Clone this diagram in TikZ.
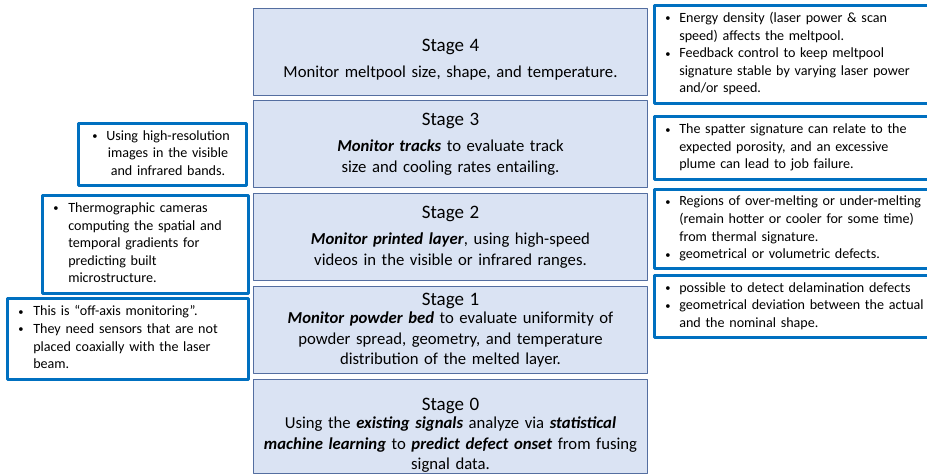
\documentclass[tikz,border=0pt]{standalone}
\usepackage{fontspec}
\setmainfont{Carlito}
\usepackage{array}
\definecolor{stagefill}{RGB}{218,227,243}
\definecolor{stageline}{RGB}{84,110,160}
\definecolor{noteline}{RGB}{0,112,192}
\newcommand{\stagetitle}[1]{{\fontsize{19}{20.4}\selectfont #1}}
\newcommand{\bi}[1]{\textbf{\textit{#1}}}
\newcommand{\bul}{\raisebox{0.6pt}{\fontsize{10.5}{10.5}\selectfont\textbullet}}
\tikzset{
  stagebox/.style={draw=stageline,line width=1pt,fill=stagefill,anchor=north west,
    minimum width=394pt,inner sep=4pt,text width=386pt,align=center,
    font=\fontsize{16.7}{20.4}\selectfont},
  notebox/.style={draw=noteline,line width=2.5pt,fill=white,anchor=north west,
    inner xsep=11pt,inner ysep=0pt,align=left,
    font=\fontsize{14.1}{17.6}\selectfont}
}
\begin{document}
\begin{tikzpicture}[line cap=round,line join=round,x=1pt,y=-1pt]
\useasboundingbox (0,0) rectangle (927,475);
		% stages
		\node[stagebox,minimum height=87pt] (stage4) at (253,8) {\rule{0pt}{28pt}\stagetitle{Stage 4}\\[6pt]Monitor meltpool size, shape, and temperature.};
		\node[stagebox,minimum height=87pt] (stage3) at (253,100) {\stagetitle{Stage 3}\\[6pt]\bi{Monitor tracks} to evaluate track\\size and cooling rates entailing.};
		\node[stagebox,minimum height=87pt] (stage2) at (253,193) {\stagetitle{Stage 2}\\[6pt]\bi{Monitor printed layer}, using high-speed\\videos in the visible or infrared ranges.};
		\node[stagebox,minimum height=87pt] (stage1) at (253,286) {\stagetitle{Stage 1}\\[-2pt]\bi{Monitor powder bed} to evaluate uniformity of\\powder spread, geometry, and temperature\\distribution of the melted layer.};
		\node[stagebox,minimum height=94pt,inner ysep=0pt] (stage0) at (253,379) {\rule{0pt}{30pt}\stagetitle{Stage 0}\\[-2pt]Using the \bi{existing signals} analyze via \bi{statistical}\\\bi{machine learning} to \bi{predict defect onset} from fusing\\signal data.};
		% left notes
		\node[notebox,inner xsep=14pt,minimum width=168pt,minimum height=62pt,text width=140pt] (note3) at (77,122) {\begin{tabular}{@{}p{14pt}@{}c@{}}\bul&Using high-resolution\\&images in the visible\\&and infrared bands.\end{tabular}};
		\node[notebox,minimum width=206pt,minimum height=98pt,text width=184pt] (note2) at (41,194) {\begin{tabular}{@{}p{15pt}@{}l@{}}\bul&Thermographic cameras\\&computing the spatial and\\&temporal gradients for\\&predicting built\\&microstructure.\end{tabular}};
		\node[notebox,minimum width=241pt,minimum height=81pt,text width=219pt] (note1) at (6,297) {\begin{tabular}{@{}p{15pt}@{}l@{}}\bul&This is “off-axis monitoring”.\\\bul&They need sensors that are not\\&placed coaxially with the laser\\&beam.\end{tabular}};
		% right notes
		\node[notebox,minimum width=282pt,minimum height=98pt,text width=260pt] (info4) at (653,4) {\begin{tabular}{@{}p{14pt}@{}l@{}}\bul&Energy density (laser power \& scan\\&speed) affects the meltpool.\\\bul&Feedback control to keep meltpool\\&signature stable by varying laser power\\&and/or speed.\end{tabular}};
		\node[notebox,minimum width=282pt,minimum height=63pt,text width=260pt] (info3) at (653,115) {\begin{tabular}{@{}p{14pt}@{}l@{}}\bul&The spatter signature can relate to the\\&expected porosity, and an excessive\\&plume can lead to job failure.\end{tabular}};
		\node[notebox,minimum width=282pt,minimum height=79pt,text width=260pt] (info2) at (653,188) {\begin{tabular}{@{}p{14pt}@{}l@{}}\bul&Regions of over-melting or under-melting\\&(remain hotter or cooler for some time)\\&from thermal signature.\\\bul&geometrical or volumetric defects.\end{tabular}};
		\node[notebox,minimum width=282pt,minimum height=62pt,text width=260pt] (info1) at (653,274) {\begin{tabular}{@{}p{14pt}@{}l@{}}\bul&possible to detect delamination defects\\\bul&geometrical deviation between the actual\\&and the nominal shape.\end{tabular}};
\end{tikzpicture}
\end{document}
